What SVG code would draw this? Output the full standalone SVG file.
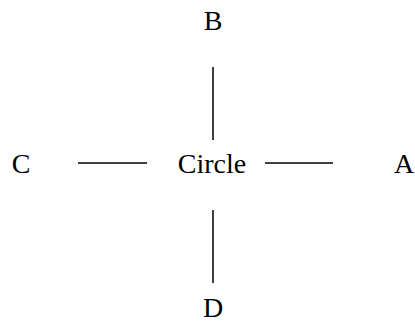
<svg xmlns="http://www.w3.org/2000/svg" width="415" height="323" viewBox="0 0 415 323">
<style>
text{font-family:"Liberation Serif","Times New Roman",serif;font-size:28px;fill:#000;text-anchor:middle}
line{stroke:#000;stroke-width:1.5}
</style>
<rect width="415" height="323" fill="#fff"/>
<g id="connectors">
<line x1="213" y1="67" x2="213" y2="140"/>
<line x1="213" y1="210" x2="213" y2="283"/>
<line x1="78" y1="163" x2="147" y2="163"/>
<line x1="265" y1="163" x2="333" y2="163"/>
</g>
<g id="circle"><text x="212" y="173">Circle</text></g>
<g id="A"><text x="404" y="173">A</text></g>
<g id="B"><text x="213" y="30">B</text></g>
<g id="C"><text x="21" y="173">C</text></g>
<g id="D"><text x="213" y="317">D</text></g>
</svg>
